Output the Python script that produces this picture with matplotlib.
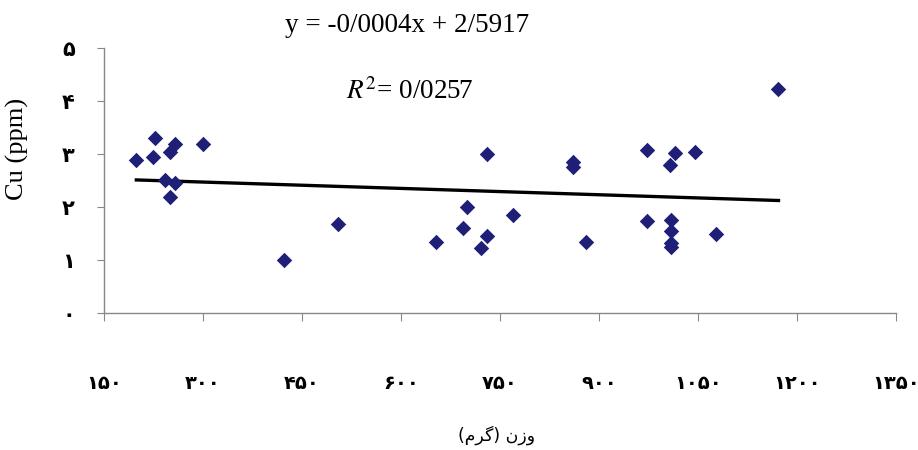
import numpy as np
import matplotlib
matplotlib.use("Agg")
import matplotlib.pyplot as plt

# weight (g) vs Cu (ppm)
weight = [199, 227, 224, 258, 250, 300, 242, 258, 250, 423, 504,
          653, 694, 700, 730, 730, 721, 769, 1172, 861, 861, 972,
          1015, 1008, 1045, 881, 972, 1009, 1009, 1009, 1009, 1078]
cu = [2.89, 3.30, 2.95, 3.19, 3.04, 3.19, 2.52, 2.46, 2.18, 1.00, 1.68,
      1.33, 1.60, 2.00, 3.00, 1.45, 1.22, 1.85, 4.23, 2.85, 2.76, 3.08,
      3.02, 2.80, 3.04, 1.33, 1.74, 1.75, 1.55, 1.32, 1.25, 1.49]

# trendline as printed on the chart
slope = -0.0004
intercept = 2.5917

x_ticks = [150, 300, 450, 600, 750, 900, 1050, 1200, 1350]
y_ticks = [0, 1, 2, 3, 4, 5]
PERSIAN = "۰۱۲۳۴۵۶۷۸۹"


def fa(n):
    return "".join(PERSIAN[int(c)] for c in str(n))


plt.rcParams["mathtext.fontset"] = "stix"

fig = plt.figure(figsize=(9.18, 4.5), dpi=100)
ax = fig.add_axes([0.1133, 0.305, 0.8627, 0.5875])

ax.scatter(weight, cu, marker="D", s=62, color="#1f1f78", zorder=3, linewidths=0)
xs = np.array([min(weight), max(weight)])
ax.plot(xs, slope * xs + intercept, color="black", lw=2.4, zorder=2)

ax.set_xlim(150, 1350)
ax.set_ylim(0, 5)
ax.set_xticks(x_ticks)
ax.set_yticks(y_ticks)
ax.set_xticklabels([fa(v) for v in x_ticks], fontsize=14, fontweight="bold",
                   family="DejaVu Sans")
ax.set_yticklabels([fa(v) for v in y_ticks], fontsize=15, fontweight="bold",
                   family="DejaVu Sans")
ax.tick_params(axis="x", direction="out", length=6, color="#888888", pad=38)
ax.tick_params(axis="y", direction="out", length=5, color="#888888", pad=16)

for side in ["top", "right"]:
    ax.spines[side].set_visible(False)
for side in ["left", "bottom"]:
    ax.spines[side].set_color("#888888")
    ax.spines[side].set_linewidth(1.0)

fig.text(0.019, 0.668, "Cu (ppm)", rotation=90, ha="center", va="center",
         family="Liberation Serif", fontsize=19)

# x label "وزن (گرم)" written in visual order with presentation forms
xlabel = "(\uFEE1\uFEAE\uFB94) \u0646\u0632\u0648"
fig.text(0.541, 0.033, xlabel, ha="center", va="center", fontsize=12.5,
         family="DejaVu Sans")

fig.text(0.443, 0.944, "y = -0/0004x + 2/5917", ha="center", va="center",
         fontsize=19.5, family="Liberation Serif")
fig.text(0.446, 0.796, r"$R^2$= 0/0257", ha="center", va="center",
         fontsize=19.5, family="Liberation Serif")

fig.savefig("out.png", dpi=100)
